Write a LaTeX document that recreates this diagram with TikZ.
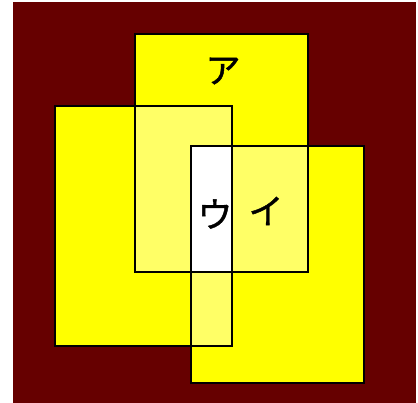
\documentclass[tikz,border=0pt]{standalone}
\usepackage{fontspec}
\newfontfamily\jpfont[FakeBold=1.2]{Noto Sans CJK JP}
\definecolor{bgred}{HTML}{660000}
\definecolor{lightyel}{HTML}{FFFF66}
\definecolor{setyel}{HTML}{FFFF00}
\begin{document}
\begin{tikzpicture}[x=1pt, y=-1pt, line width=2pt,
    lbl/.style={font=\jpfont\fontsize{35}{35}\selectfont, inner sep=0pt}]
            \useasboundingbox (0,0) rectangle (418,403);
            \fill[white] (0,0) rectangle (418,403);
            \fill[bgred] (13,2) rectangle (416,403);
            % sets
            \foreach \xa/\ya/\xb/\yb in {135/34/308/272, 55/106/232/346, 191/146/364/383} {
                \fill[setyel] (\xa,\ya) rectangle (\xb,\yb);
            }
            % overlaps of two
            \foreach \xa/\ya/\xb/\yb in {135/106/232/272, 191/146/308/272, 191/146/232/346} {
                \fill[lightyel] (\xa,\ya) rectangle (\xb,\yb);
            }
            % overlap of all three
            \fill[white] (191,146) rectangle (232,272);
            \foreach \xa/\ya/\xb/\yb in {135/34/308/272, 55/106/232/346, 191/146/364/383} {
                \draw (\xa,\ya) rectangle (\xb,\yb);
            }
            \node[lbl] (setA) at (223,71) {ア};
            \node[lbl] (setI) at (266,211) {イ};
            \node[lbl] (setU) at (215,214) {ウ};
        \end{tikzpicture}
\end{document}
